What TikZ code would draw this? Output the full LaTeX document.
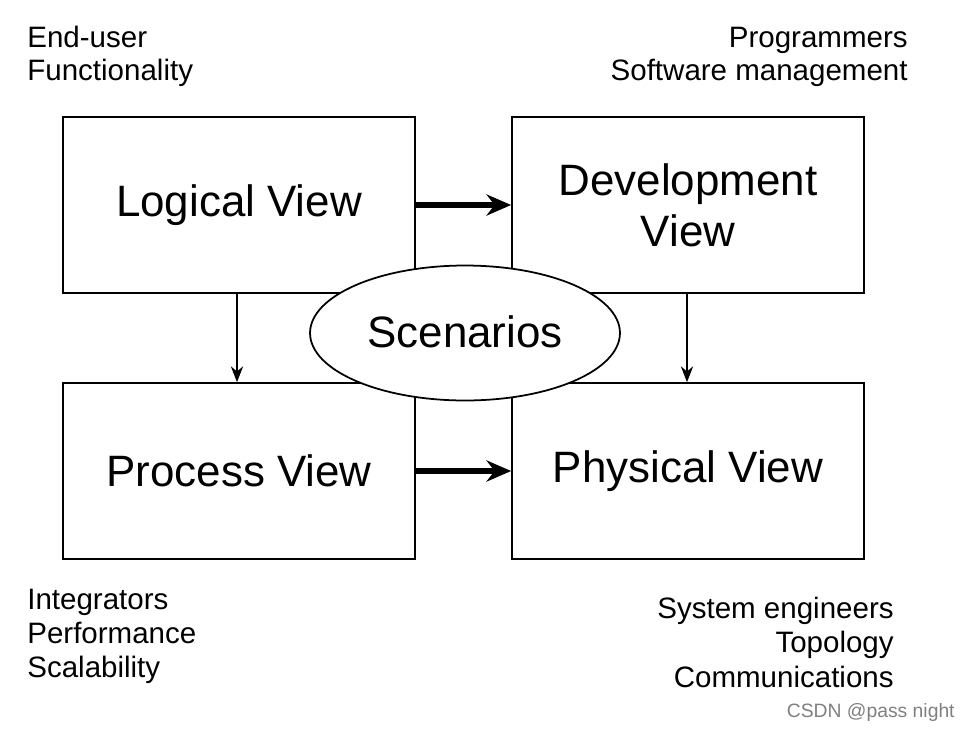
\documentclass[tikz,border=0pt]{standalone}
\usepackage{fontspec}
\setmainfont{Liberation Sans}
\usetikzlibrary{shapes.geometric,arrows.meta}
\begin{document}
\begin{tikzpicture}[x=0.02cm,y=-0.02cm,
  box/.style={draw,line width=1pt,minimum width=7.04cm,minimum height=3.52cm,font=\fontsize{25}{29}\selectfont,align=center},
  one/.style={text height=0.72em,text depth=0.22em},
  lab/.style={font=\fontsize{16.8}{20}\selectfont,inner sep=0pt,text height=0.72em,text depth=0.22em,yshift=-0.1cm},
  thin/.style={-{Stealth[length=9pt,width=7pt]},line width=0.8pt},
  thick/.style={-{Stealth[length=14pt,width=12pt]},line width=3pt}]
\useasboundingbox[fill=white] (0,0) rectangle (970,731);
\node[box] (log) at (239,205) {\raisebox{-0.2cm}{Logical View}};
\node[box] (dev) at (688,205) {Development\\View};
\node[box] (proc) at (239,471) {\raisebox{-0.2cm}{Process View}};
\node[box] (phys) at (688,471) {\raisebox{-0.2cm}{Physical View}};
\node[draw,fill=white,line width=1pt,ellipse,minimum width=6.2cm,minimum height=2.7cm,font=\fontsize{25}{29}\selectfont,one] (sc) at (465,333) {\raisebox{-0.2cm}{Scenarios}};
\draw[thick] (log.east) -- (dev.west);
\draw[thick] (proc.east) -- (phys.west);
\draw[thin] (log.south -| 237,0) -- (proc.north -| 237,0);
\draw[thin] (dev.south -| 687,0) -- (phys.north -| 687,0);
\node[lab,anchor=west] (t1) at (27,38) {End-user};
\node[lab,anchor=west] (t2) at (27,71) {Functionality};
\node[lab,anchor=east] (t3) at (908,38) {Programmers};
\node[lab,anchor=east] (t4) at (908,71) {Software management};
\node[lab,anchor=west] (t5) at (27,600) {Integrators};
\node[lab,anchor=west] (t6) at (27,634) {Performance};
\node[lab,anchor=west] (t7) at (27,668) {Scalability};
\node[lab,anchor=east] (t8) at (894,609) {System engineers};
\node[lab,anchor=east] (t9) at (894,643) {Topology};
\node[lab,anchor=east] (t10) at (894,678) {Communications};
\node[anchor=east,text=gray,font=\fontsize{11}{13}\selectfont,inner sep=0pt] (wm) at (955,712) {CSDN @pass night};
\end{tikzpicture}
\end{document}
